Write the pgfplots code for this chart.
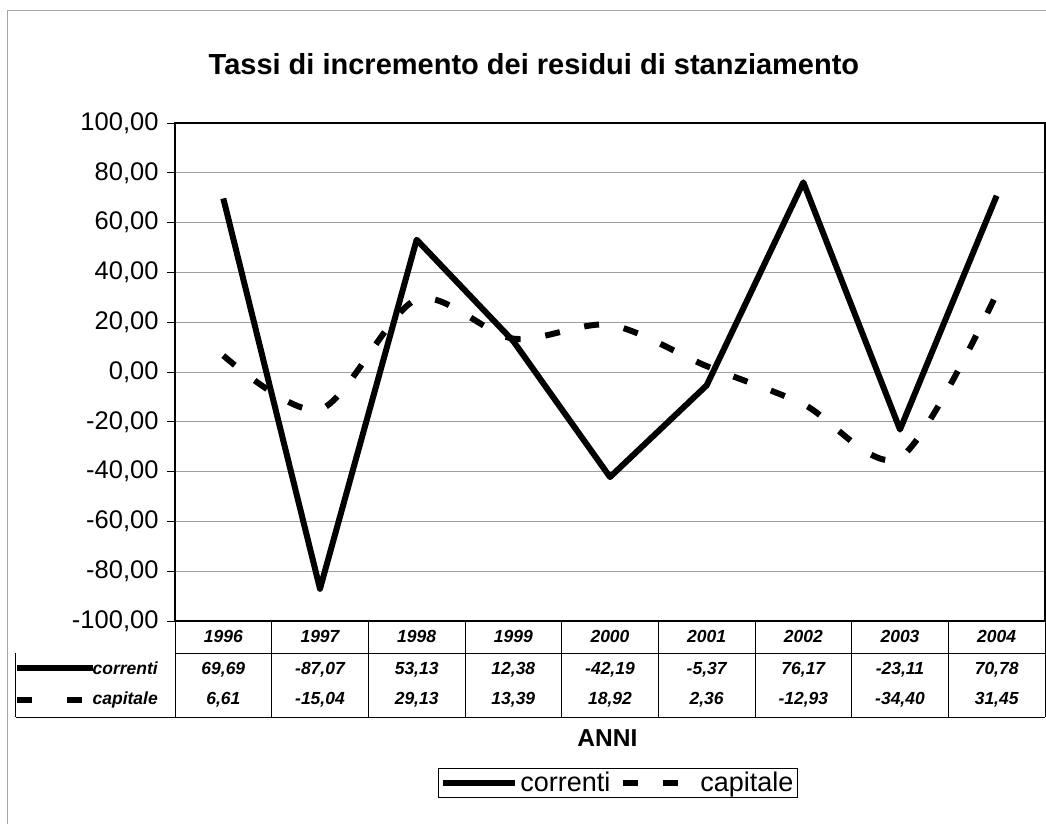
\documentclass[border=0pt]{standalone}
\usepackage{pgfplots}
\pgfplotsset{compat=1.18}
\usepackage{fontspec}
\setmainfont{Liberation Sans}
\newcommand{\tf}{\fontsize{17.5}{21}\selectfont\bfseries\itshape}
\pgfplotsset{
  legsolid/.style={legend image code/.code={\draw[##1] (0pt,0pt) -- (72pt,0pt);}},
  legdash/.style={legend image code/.code={\draw[##1] (0pt,0pt) -- (55pt,0pt); \path (0pt,0pt) -- (72pt,0pt);}},
}
\begin{document}
\begin{tikzpicture}
\useasboundingbox (0,0) rectangle (1046pt,823pt);
\draw[gray!70,line width=0.7pt] (7pt,-20pt) rectangle (1070pt,813pt);
\begin{axis}[
  at={(175pt,202pt)}, anchor=south west,
  scale only axis, width=870pt, height=498pt,
  xmin=-0.5, xmax=8.5, ymin=-100, ymax=100,
  xtick=\empty,
  ytick={-100,-80,...,100},
  ytick pos=left, tick align=outside, major tick length=8pt,
  tick style={black, line width=1pt},
  ymajorgrids, grid style={gray!75, line width=0.8pt},
  axis line style={line width=2pt},
  clip=false,
  yticklabel style={font=\fontsize{25.5}{30}\selectfont, xshift=-5pt,
    /pgf/number format/.cd, fixed, fixed zerofill, precision=2, use comma, assume math mode=true},
  legend style={at={(axis description cs:0.509,-0.325)}, anchor=center,
    draw=black, line width=0.8pt, font=\fontsize{27}{31}\selectfont,
    inner sep=2pt, legend columns=2,
    /tikz/every even column/.append style={column sep=8pt}},
]
\addplot[black, line width=6pt, line join=round, legsolid]
  coordinates {(0,69.69) (1,-87.07) (2,53.13) (3,12.38) (4,-42.19) (5,-5.37) (6,76.17) (7,-23.11) (8,70.78)};
\addlegendentry{correnti}
\addplot[black, line width=6pt, smooth, dash pattern=on 15pt off 25pt, legdash]
  coordinates {(0,6.61) (1,-15.04) (2,29.13) (3,13.39) (4,18.92) (5,2.36) (6,-12.93) (7,-34.40) (8,31.45)};
\addlegendentry{capitale}

% data table grid
\draw[black, line width=1.2pt] (axis cs:-0.5,-112.9) -- (axis cs:8.5,-112.9);
\draw[black, line width=1.2pt] (axis cs:-2.145,-138.6) -- (axis cs:8.5,-138.6);
\draw[black, line width=1pt] (axis cs:-2.145,-112.9) -- (axis cs:-2.145,-138.6);
\draw[black, line width=1pt] (axis cs:8.5,-100) -- (axis cs:8.5,-138.6);
\draw[black, line width=1pt] (axis cs:-0.5,-100) -- (axis cs:-0.5,-138.6);
\draw[black, line width=0.8pt] (axis cs:0.5,-100) -- (axis cs:0.5,-138.6);
\draw[black, line width=0.8pt] (axis cs:1.5,-100) -- (axis cs:1.5,-138.6);
\draw[black, line width=0.8pt] (axis cs:2.5,-100) -- (axis cs:2.5,-138.6);
\draw[black, line width=0.8pt] (axis cs:3.5,-100) -- (axis cs:3.5,-138.6);
\draw[black, line width=0.8pt] (axis cs:4.5,-100) -- (axis cs:4.5,-138.6);
\draw[black, line width=0.8pt] (axis cs:5.5,-100) -- (axis cs:5.5,-138.6);
\draw[black, line width=0.8pt] (axis cs:6.5,-100) -- (axis cs:6.5,-138.6);
\draw[black, line width=0.8pt] (axis cs:7.5,-100) -- (axis cs:7.5,-138.6);
% legend keys in table
\draw[black, line width=6pt] (axis cs:-2.134,-118.9) -- (axis cs:-1.35,-118.9);
\draw[black, line width=6pt] (axis cs:-2.134,-131.7) -- (axis cs:-1.979,-131.7);
\draw[black, line width=6pt] (axis cs:-1.617,-131.7) -- (axis cs:-1.462,-131.7);
\node[anchor=east, font=\tf, inner sep=0pt] at (axis cs:-0.676,-118.9) {correnti};
\node[anchor=east, font=\tf, inner sep=0pt] at (axis cs:-0.676,-131.7) {capitale};
% years
\node[font=\tf] at (axis cs:0,-106.4) {1996};
\node[font=\tf] at (axis cs:1,-106.4) {1997};
\node[font=\tf] at (axis cs:2,-106.4) {1998};
\node[font=\tf] at (axis cs:3,-106.4) {1999};
\node[font=\tf] at (axis cs:4,-106.4) {2000};
\node[font=\tf] at (axis cs:5,-106.4) {2001};
\node[font=\tf] at (axis cs:6,-106.4) {2002};
\node[font=\tf] at (axis cs:7,-106.4) {2003};
\node[font=\tf] at (axis cs:8,-106.4) {2004};
% correnti values
\node[font=\tf] at (axis cs:0,-119.4) {69,69};
\node[font=\tf] at (axis cs:1,-119.4) {-87,07};
\node[font=\tf] at (axis cs:2,-119.4) {53,13};
\node[font=\tf] at (axis cs:3,-119.4) {12,38};
\node[font=\tf] at (axis cs:4,-119.4) {-42,19};
\node[font=\tf] at (axis cs:5,-119.4) {-5,37};
\node[font=\tf] at (axis cs:6,-119.4) {76,17};
\node[font=\tf] at (axis cs:7,-119.4) {-23,11};
\node[font=\tf] at (axis cs:8,-119.4) {70,78};
% capitale values
\node[font=\tf] at (axis cs:0,-131.7) {6,61};
\node[font=\tf] at (axis cs:1,-131.7) {-15,04};
\node[font=\tf] at (axis cs:2,-131.7) {29,13};
\node[font=\tf] at (axis cs:3,-131.7) {13,39};
\node[font=\tf] at (axis cs:4,-131.7) {18,92};
\node[font=\tf] at (axis cs:5,-131.7) {2,36};
\node[font=\tf] at (axis cs:6,-131.7) {-12,93};
\node[font=\tf] at (axis cs:7,-131.7) {-34,40};
\node[font=\tf] at (axis cs:8,-131.7) {31,45};
% axis title
\node[font=\fontsize{24.5}{28}\selectfont\bfseries] at (axis description cs:0.497,-0.235) {ANNI};
% chart title
\node[font=\fontsize{29}{34}\selectfont\bfseries] at (axis description cs:0.4126,1.1185) {Tassi di incremento dei residui di stanziamento};
\end{axis}
\end{tikzpicture}
\end{document}
